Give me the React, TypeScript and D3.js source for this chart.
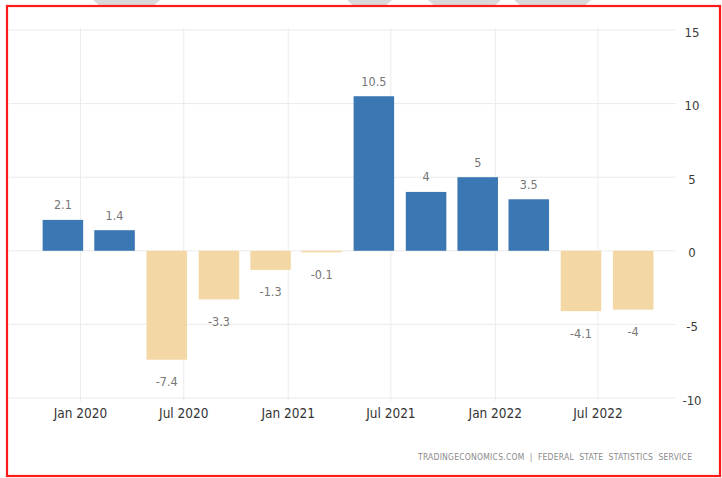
import React from "react";
import * as d3 from "d3";

const quarterDates = [
  "2019-12-01", "2020-03-01", "2020-06-01", "2020-09-01",
  "2020-12-01", "2021-03-01", "2021-06-01", "2021-09-01",
  "2021-12-01", "2022-03-01", "2022-06-01", "2022-09-01",
];
const values = [2.1, 1.4, -7.4, -3.3, -1.3, -0.1, 10.5, 4, 5, 3.5, -4.1, -4];
const valueLabels = ["2.1", "1.4", "-7.4", "-3.3", "-1.3", "-0.1", "10.5", "4", "5", "3.5", "-4.1", "-4"];
const xTickDates = ["2020-01-01", "2020-07-01", "2021-01-01", "2021-07-01", "2022-01-01", "2022-07-01"];
const xTickLabels = ["Jan 2020", "Jul 2020", "Jan 2021", "Jul 2021", "Jan 2022", "Jul 2022"];
const yTicks = [15, 10, 5, 0, -5, -10];
const sourceText = "TRADINGECONOMICS.COM  |  FEDERAL  STATE  STATISTICS  SERVICE";

const W = 722;
const H = 478;
const BLUE = "#3b77b3";
const TAN = "#f3d8a6";
const FONT = "'Liberation Sans Narrow', 'DejaVu Sans Condensed', 'Liberation Sans', Arial, sans-serif";

const parse = d3.utcParse("%Y-%m-%d");

export default function App() {
  const x = d3
    .scaleUtc()
    .domain([parse("2020-01-01")!, parse("2022-07-01")!])
    .range([80.5, 598]);
  const y = d3.scaleLinear().domain([-10, 15]).range([398, 30]);

  const quarterPx = x(parse("2020-04-01")!) - x(parse("2020-01-01")!);
  const barW = quarterPx * 0.785;

  const topShapes = [
    [93, 160],
    [347, 392],
    [428, 501],
    [514, 591],
  ];

  return (
    <svg
      width={W}
      height={H}
      style={{ position: "absolute", left: 0, top: 0, background: "#fff" }}
      fontFamily={FONT}
    >
      {topShapes.map(([a, b], i) => (
        <path
          key={"s" + i}
          d={`M${a},0 L${b},0 L${b - 8},7 L${a + 8},7 Z`}
          fill="#d9d9d9"
        />
      ))}

      {yTicks.map((t) => (
        <line
          key={"gy" + t}
          x1={9}
          x2={676}
          y1={y(t)}
          y2={y(t)}
          stroke="#ebebeb"
          strokeWidth={1}
        />
      ))}
      {xTickDates.map((d) => (
        <line
          key={"gx" + d}
          x1={x(parse(d)!)}
          x2={x(parse(d)!)}
          y1={y(15) - 2}
          y2={y(-10) + 3}
          stroke="#ebebeb"
          strokeWidth={1}
        />
      ))}

      {values.map((v, i) => {
        const cx = x(parse(quarterDates[i])!);
        const y0 = y(0);
        const y1 = y(v);
        const top = Math.min(y0, y1);
        const h = Math.max(Math.abs(y1 - y0), 1.5);
        return (
          <rect
            key={"b" + i}
            x={cx - barW / 2}
            y={top}
            width={barW}
            height={h}
            fill={v >= 0 ? BLUE : TAN}
          />
        );
      })}

      {values.map((v, i) => {
        const cx = x(parse(quarterDates[i])!);
        const yy = v >= 0 ? y(v) - 15 : y(v) + 22;
        return (
          <text
            key={"l" + i}
            x={cx}
            y={yy}
            textAnchor="middle"
            dominantBaseline="central"
            fontSize={12.5}
            fill="#767676"
          >
            {valueLabels[i]}
          </text>
        );
      })}

      {yTicks.map((t) => (
        <text
          key={"ty" + t}
          x={692}
          y={y(t) + 2}
          textAnchor="middle"
          dominantBaseline="central"
          fontSize={13}
          fill="#3a3a3a"
        >
          {t}
        </text>
      ))}

      {xTickDates.map((d, i) => (
        <text
          key={"tx" + d}
          x={x(parse(d)!)}
          y={413}
          textAnchor="middle"
          dominantBaseline="central"
          fontSize={13.5}
          fill="#333"
        >
          {xTickLabels[i]}
        </text>
      ))}

      <text
        x={418}
        y={457}
        textAnchor="start"
        dominantBaseline="central"
        fontSize={8.5}
        fill="#8a8a8a"
        textLength={274}
        lengthAdjust="spacing"
        style={{ whiteSpace: "pre" }}
      >
        {sourceText}
      </text>

      <rect x={7} y={6} width={713} height={470} fill="none" stroke="#ff1a1a" strokeWidth={2.2} />
    </svg>
  );
}
